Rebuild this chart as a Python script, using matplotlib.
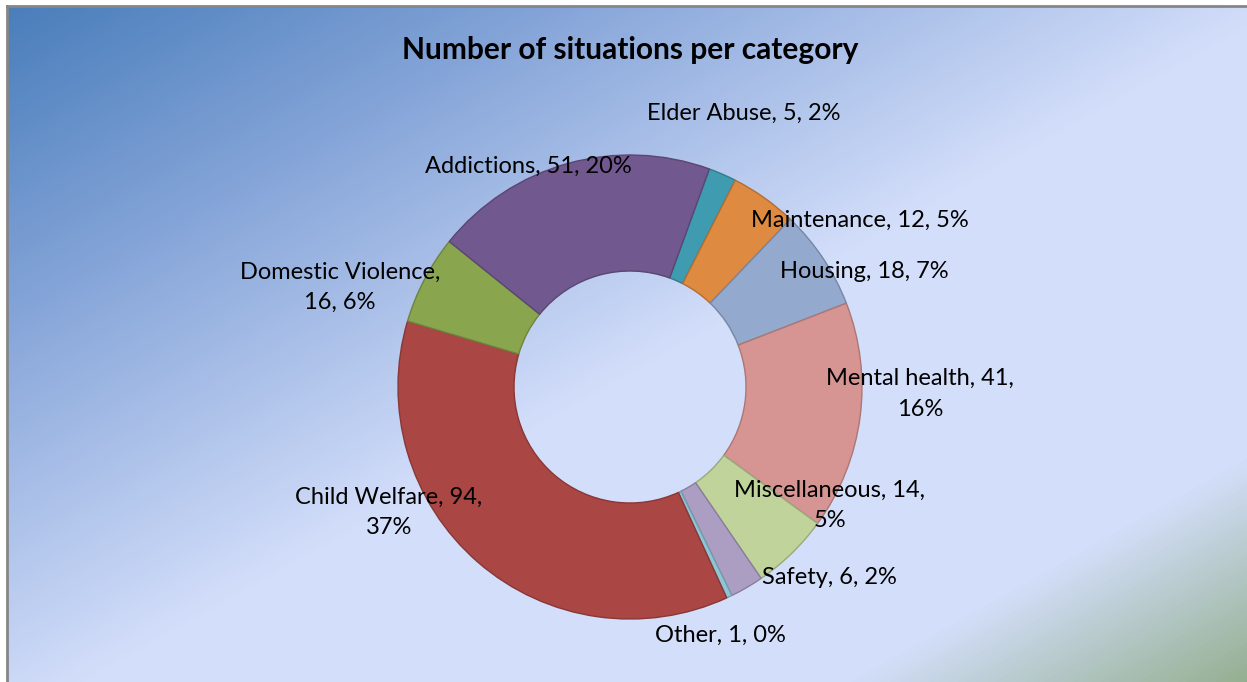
import numpy as np
import matplotlib
matplotlib.use('Agg')
from matplotlib import pyplot as plt
from matplotlib.colors import LinearSegmentedColormap
from matplotlib.lines import Line2D

plt.rcParams['font.family'] = ['Lato', 'DejaVu Sans']

# data, clockwise from Elder Abuse
categories = ['Elder Abuse', 'Maintenance', 'Housing', 'Mental health', 'Miscellaneous',
              'Safety', 'Other', 'Child Welfare', 'Domestic Violence', 'Addictions']
counts = [5, 12, 18, 41, 14, 6, 1, 94, 16, 51]
percents = [2, 5, 7, 16, 5, 2, 0, 37, 6, 20]
colors = ['#3E9BB0', '#DE8A40', '#94A9CE', '#D69593', '#BFD39A',
          '#AC9DC3', '#8FC5D6', '#AA4643', '#89A54E', '#71588F']

# where each label wraps (after the name or after the count), None = one line
wrap_after = [None, None, None, 1, 1, None, None, 1, 0, None]
# label centres, in units of the outer radius from the ring centre
label_pos = [(0.49, 1.18), (0.99, 0.72), (1.01, 0.50), (1.25, -0.03), (0.86, -0.51),
             (0.86, -0.82), (0.39, -1.07), (-1.04, -0.54), (-1.25, 0.43), (-0.44, 0.95)]

W, H = 1247, 682
fig = plt.figure(figsize=(W / 100, H / 100), dpi=100)

# chart area background: diagonal blue -> pale -> green gradient
bg = fig.add_axes([8 / W, 0, 1 - 8 / W, 1 - 6 / H])
xx, yy = np.meshgrid(np.linspace(8, W, 400), np.linspace(6, H, 220))
t = (0.49 * (xx - 8) + 0.87 * (yy - 6)) / (0.49 * W + 0.87 * H)
cmap = LinearSegmentedColormap.from_list('bg', [
    (0.0, '#4A7EBB'), (0.22, '#84A4D8'), (0.52, '#D3DEFA'),
    (0.83, '#D4DFFB'), (1.0, '#93AE8E')])
bg.imshow(t, cmap=cmap, vmin=0, vmax=1, aspect='auto', interpolation='bilinear')
bg.set_axis_off()

# grey frame along the left and top edges
fig.add_artist(Line2D([7 / W, 7 / W], [0, 1 - 6 / H], color='#868686', lw=2))
fig.add_artist(Line2D([7 / W, 1], [1 - 6 / H, 1 - 6 / H], color='#868686', lw=2))

fig.text(630 / W, 1 - 50 / H, 'Number of situations per category',
         ha='center', va='center', fontsize=21.5, fontweight='bold')

# ring
cx, cy, r = 630, 387, 232
ax = fig.add_axes([(cx - r) / W, (H - cy - r) / H, 2 * r / W, 2 * r / H])
edges = [tuple(c * 0.8 for c in matplotlib.colors.to_rgb(col)) for col in colors]
wedges, _ = ax.pie(counts, colors=colors, startangle=70, counterclock=False,
                   radius=1, wedgeprops=dict(width=0.5, linewidth=1))
for w, ec in zip(wedges, edges):
    w.set_edgecolor(ec)
ax.set_xlim(-1, 1)
ax.set_ylim(-1, 1)
ax.set_axis_off()

for name, n, p, k, (lx, ly) in zip(categories, counts, percents, wrap_after, label_pos):
    parts = [name, str(n), f'{p}%']
    text = ''
    for i, part in enumerate(parts):
        text += part
        if i < 2:
            text += ',' + ('\n' if k == i else ' ')
    ax.text(lx, ly, text, ha='center', va='center', fontsize=17,
            linespacing=1.55, clip_on=False)

fig.savefig('out.png', dpi=100)
